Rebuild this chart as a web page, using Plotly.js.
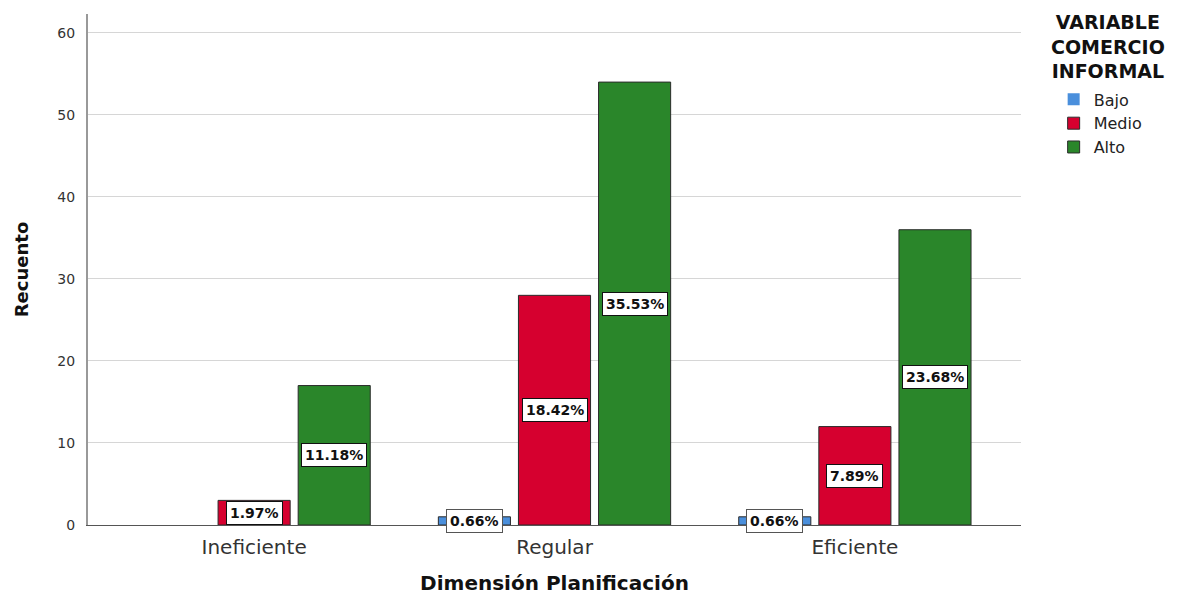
<!DOCTYPE html>
<html>
<head>
<meta charset="utf-8">
<script src="https://cdn.plot.ly/plotly-3.0.1.min.js"></script>
<style>html,body{margin:0;padding:0;background:#fff;}#chart{width:1179px;height:595px;}</style>
</head>
<body>
<div id="chart"></div>
<script>
const categories = ["Ineficiente", "Regular", "Eficiente"];
const seriesNames = ["Bajo", "Medio", "Alto"];
const bajo = [0, 1, 1];
const medio = [3, 28, 12];
const alto = [17, 54, 36];
const total = 152;
const yTicks = [0, 10, 20, 30, 40, 50, 60];
const legendTitle = "VARIABLE<br>COMERCIO<br>INFORMAL";

const FONT = "DejaVu Sans, Verdana, sans-serif";
const colors = ["#4a8fdc", "#d6002f", "#2a862a"];
const seriesValues = [bajo, medio, alto];

const traces = seriesValues.map((vals, s) => ({
  type: "bar",
  name: seriesNames[s],
  x: categories,
  y: vals,
  marker: { color: colors[s], line: { color: "#2b2b2b", width: vals.map(v => v > 0 ? 1 : 0) } },
  hoverinfo: "skip"
}));

const slot = 0.8 / 3;
const annotations = [];
seriesValues.forEach((vals, s) => {
  vals.forEach((v, i) => {
    if (v <= 0) return;
    annotations.push({
      xref: "x", yref: "y",
      x: i + (s - 1) * slot,
      y: v / 2,
      text: (v / total * 100).toFixed(2) + "%",
      showarrow: false,
      bgcolor: "#ffffff",
      bordercolor: s === 0 ? "#555555" : "#111111",
      borderwidth: 1,
      borderpad: 3,
      font: { family: FONT, size: 14, color: "#111", weight: "bold" }
    });
  });
});

annotations.push({
  xref: "paper", yref: "paper",
  x: 1.093, xanchor: "center",
  y: 1.01, yanchor: "top",
  text: "<b>" + legendTitle + "</b>",
  align: "center",
  showarrow: false,
  font: { family: FONT, size: 19, color: "#111" }
});

const layout = {
  width: 1179, height: 595,
  margin: { l: 88, r: 158, t: 14, b: 70 },
  paper_bgcolor: "#ffffff",
  plot_bgcolor: "#ffffff",
  font: { family: FONT, color: "#222" },
  barmode: "group",
  bargap: 0.2,
  bargroupgap: 0.1,
  showlegend: true,
  legend: {
    x: 1.035, xanchor: "left", y: 0.866, yanchor: "top",
    font: { size: 16, color: "#222", family: FONT },
    tracegroupgap: 0
  },
  xaxis: {
    type: "category",
    range: [-0.553, 2.553],
    showgrid: false,
    showline: true, linecolor: "#555", linewidth: 1,
    ticks: "", tickfont: { size: 20, color: "#333" },
    ticklabelstandoff: 4,
    title: { text: "<b>Dimensión Planificación</b>", font: { size: 20, color: "#111" }, standoff: 22 }
  },
  yaxis: {
    range: [0, 62.3],
    tickvals: yTicks,
    showgrid: true, gridcolor: "#d6d6d6", gridwidth: 1,
    zeroline: false,
    showline: true, linecolor: "#999", linewidth: 2,
    ticks: "", tickfont: { size: 14, color: "#333" },
    ticklabelstandoff: 8,
    title: { text: "<b>Recuento</b>", font: { size: 18, color: "#111" }, standoff: 24 }
  },
  annotations: annotations
};

Plotly.newPlot("chart", traces, layout, { displayModeBar: false, staticPlot: true });
</script>
</body>
</html>
